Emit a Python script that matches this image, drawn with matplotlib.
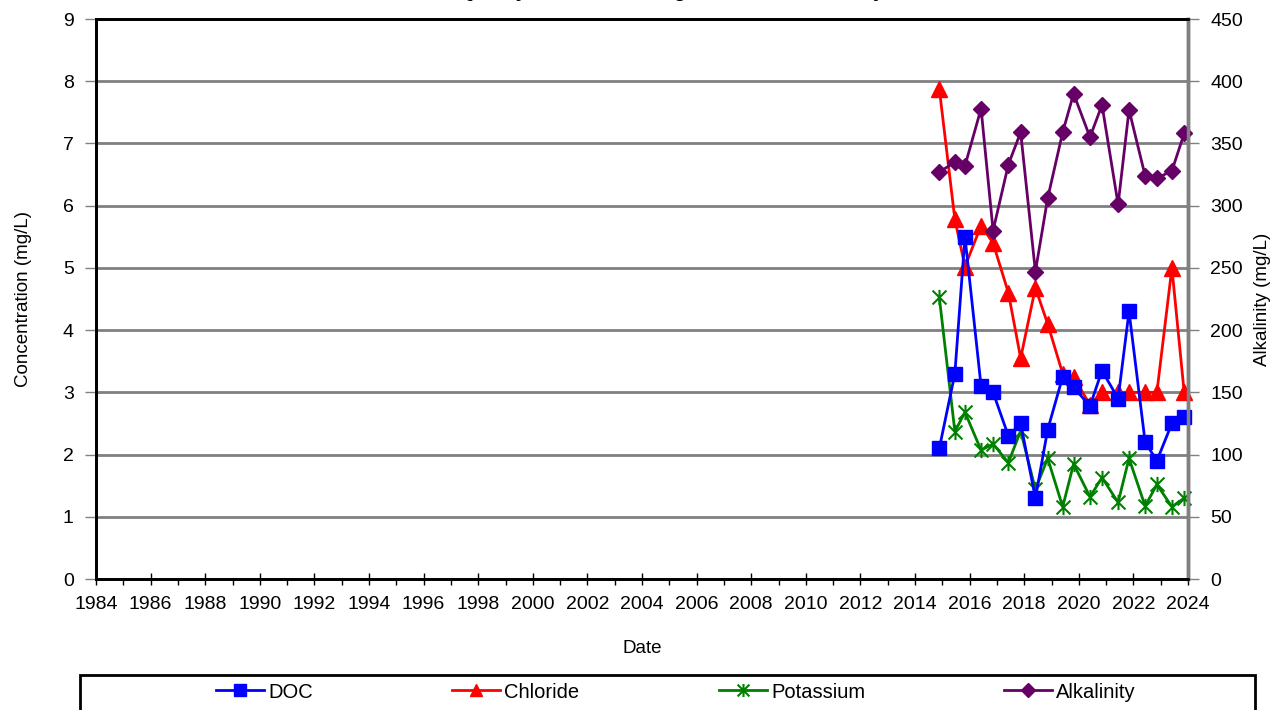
import numpy as np
import matplotlib
matplotlib.use("Agg")
import matplotlib.pyplot as plt
from matplotlib.path import Path
from matplotlib.patches import Rectangle
from matplotlib.ticker import MultipleLocator, FormatStrFormatter

plt.rcParams["font.family"] = ["Liberation Sans", "DejaVu Sans"]

# sample dates as decimal years
SAMPLE_YEARS = [2014.89, 2015.46, 2015.83, 2016.42, 2016.86, 2017.42, 2017.87,
                2018.41, 2018.86, 2019.41, 2019.81, 2020.41, 2020.85, 2021.44,
                2021.84, 2022.43, 2022.86, 2023.41, 2023.86]

DOC = [2.1, 3.3, 5.5, 3.1, 3.0, 2.3, 2.5, 1.3, 2.4, 3.25, 3.08, 2.78, 3.35,
       2.9, 4.3, 2.2, 1.9, 2.5, 2.6]
CHLORIDE = [7.88, 5.78, 5.02, 5.68, 5.4, 4.6, 3.55, 4.68, 4.1, 3.3, 3.24,
            2.8, 3.0, 3.0, 3.0, 3.0, 3.0, 5.0, 3.0]
POTASSIUM = [4.53, 2.37, 2.68, 2.07, 2.17, 1.87, 2.38, 1.44, 1.94, 1.16,
             1.85, 1.32, 1.63, 1.23, 1.94, 1.17, 1.52, 1.16, 1.3]
ALKALINITY = [327, 335, 332, 378, 280, 333, 359, 247, 306, 359, 390, 355,
              381, 301, 377, 324, 322, 328, 358]

# title runs off the top edge in the source image
TITLE = "Water Quality Trends for Long Lake Data Summary"

# excel-style star: an X with a vertical stroke
STAR = Path([(-1, -1), (1, 1), (-1, 1), (1, -1), (0, -1.1), (0, 1.1)],
            [Path.MOVETO, Path.LINETO, Path.MOVETO, Path.LINETO,
             Path.MOVETO, Path.LINETO])

fig = plt.figure(figsize=(12.82, 7.10), dpi=100)
ax = fig.add_axes([96 / 1282, 1 - 579 / 710, (1188 - 96) / 1282, (579 - 19) / 710])
ax2 = ax.twinx()

ax.plot(SAMPLE_YEARS, DOC, color="#0000ff", marker="s", markersize=10,
        linewidth=2, label="DOC", clip_on=False, zorder=5)
ax.plot(SAMPLE_YEARS, CHLORIDE, color="#ff0000", marker="^", markersize=11,
        linewidth=2, label="Chloride", clip_on=False, zorder=4)
ax.plot(SAMPLE_YEARS, POTASSIUM, color="#008000", marker=STAR, markersize=11,
        markeredgewidth=1.5, linewidth=2, label="Potassium", clip_on=False, zorder=3)
ax2.plot(SAMPLE_YEARS, ALKALINITY, color="#660066", marker="D", markersize=8,
         linewidth=2, label="Alkalinity", clip_on=False)

ax.set_xlim(1984, 2024)
ax.set_ylim(0, 9)
ax2.set_ylim(0, 450)
ax.xaxis.set_major_locator(MultipleLocator(2))
ax.xaxis.set_minor_locator(MultipleLocator(1))
ax.yaxis.set_major_locator(MultipleLocator(1))
ax2.yaxis.set_major_locator(MultipleLocator(50))
ax.xaxis.set_major_formatter(FormatStrFormatter("%d"))

ax.grid(axis="y", color="#808080", linewidth=2)
ax.set_axisbelow(True)

ax.tick_params(axis="x", which="major", direction="inout", length=9, width=1,
               labelsize=14, pad=8)
ax.tick_params(axis="x", which="minor", direction="out", length=4, width=1)
ax.tick_params(axis="y", direction="out", length=8, width=1, labelsize=14,
               color="#808080", pad=8)
ax2.tick_params(axis="y", direction="out", length=8, width=1, labelsize=14,
                color="#808080", pad=8)

for a in (ax, ax2):
    a.spines["left"].set_linewidth(2)
    a.spines["top"].set_linewidth(2)
    a.spines["bottom"].set_linewidth(2)
    a.spines["right"].set_linewidth(2.5)
    a.spines["right"].set_color("#808080")

ax.set_xlabel("Date", fontsize=13.5, labelpad=19)
ax.set_ylabel("Concentration (mg/L)", fontsize=13.5, labelpad=22)
ax2.set_ylabel("Alkalinity (mg/L)", fontsize=13.5, labelpad=8)

fig.text(0.5, 1 + 3 / 710, TITLE, ha="center", va="baseline", fontsize=14.5,
         fontweight="bold")

handles = ax.get_lines() + ax2.get_lines()
leg = fig.legend(handles, [h.get_label() for h in handles], ncol=4,
                 loc="center", bbox_to_anchor=(676 / 1282, 1 - 692 / 710),
                 frameon=False, fontsize=14.5, markerscale=0.85,
                 handlelength=2.4, handletextpad=0.2, columnspacing=6.9)
fig.patches.append(Rectangle((80 / 1282, -0.05), 1175 / 1282, 0.05 + 35 / 710,
                             transform=fig.transFigure, fill=False,
                             edgecolor="black", linewidth=2))

fig.savefig("out.png", dpi=100)
